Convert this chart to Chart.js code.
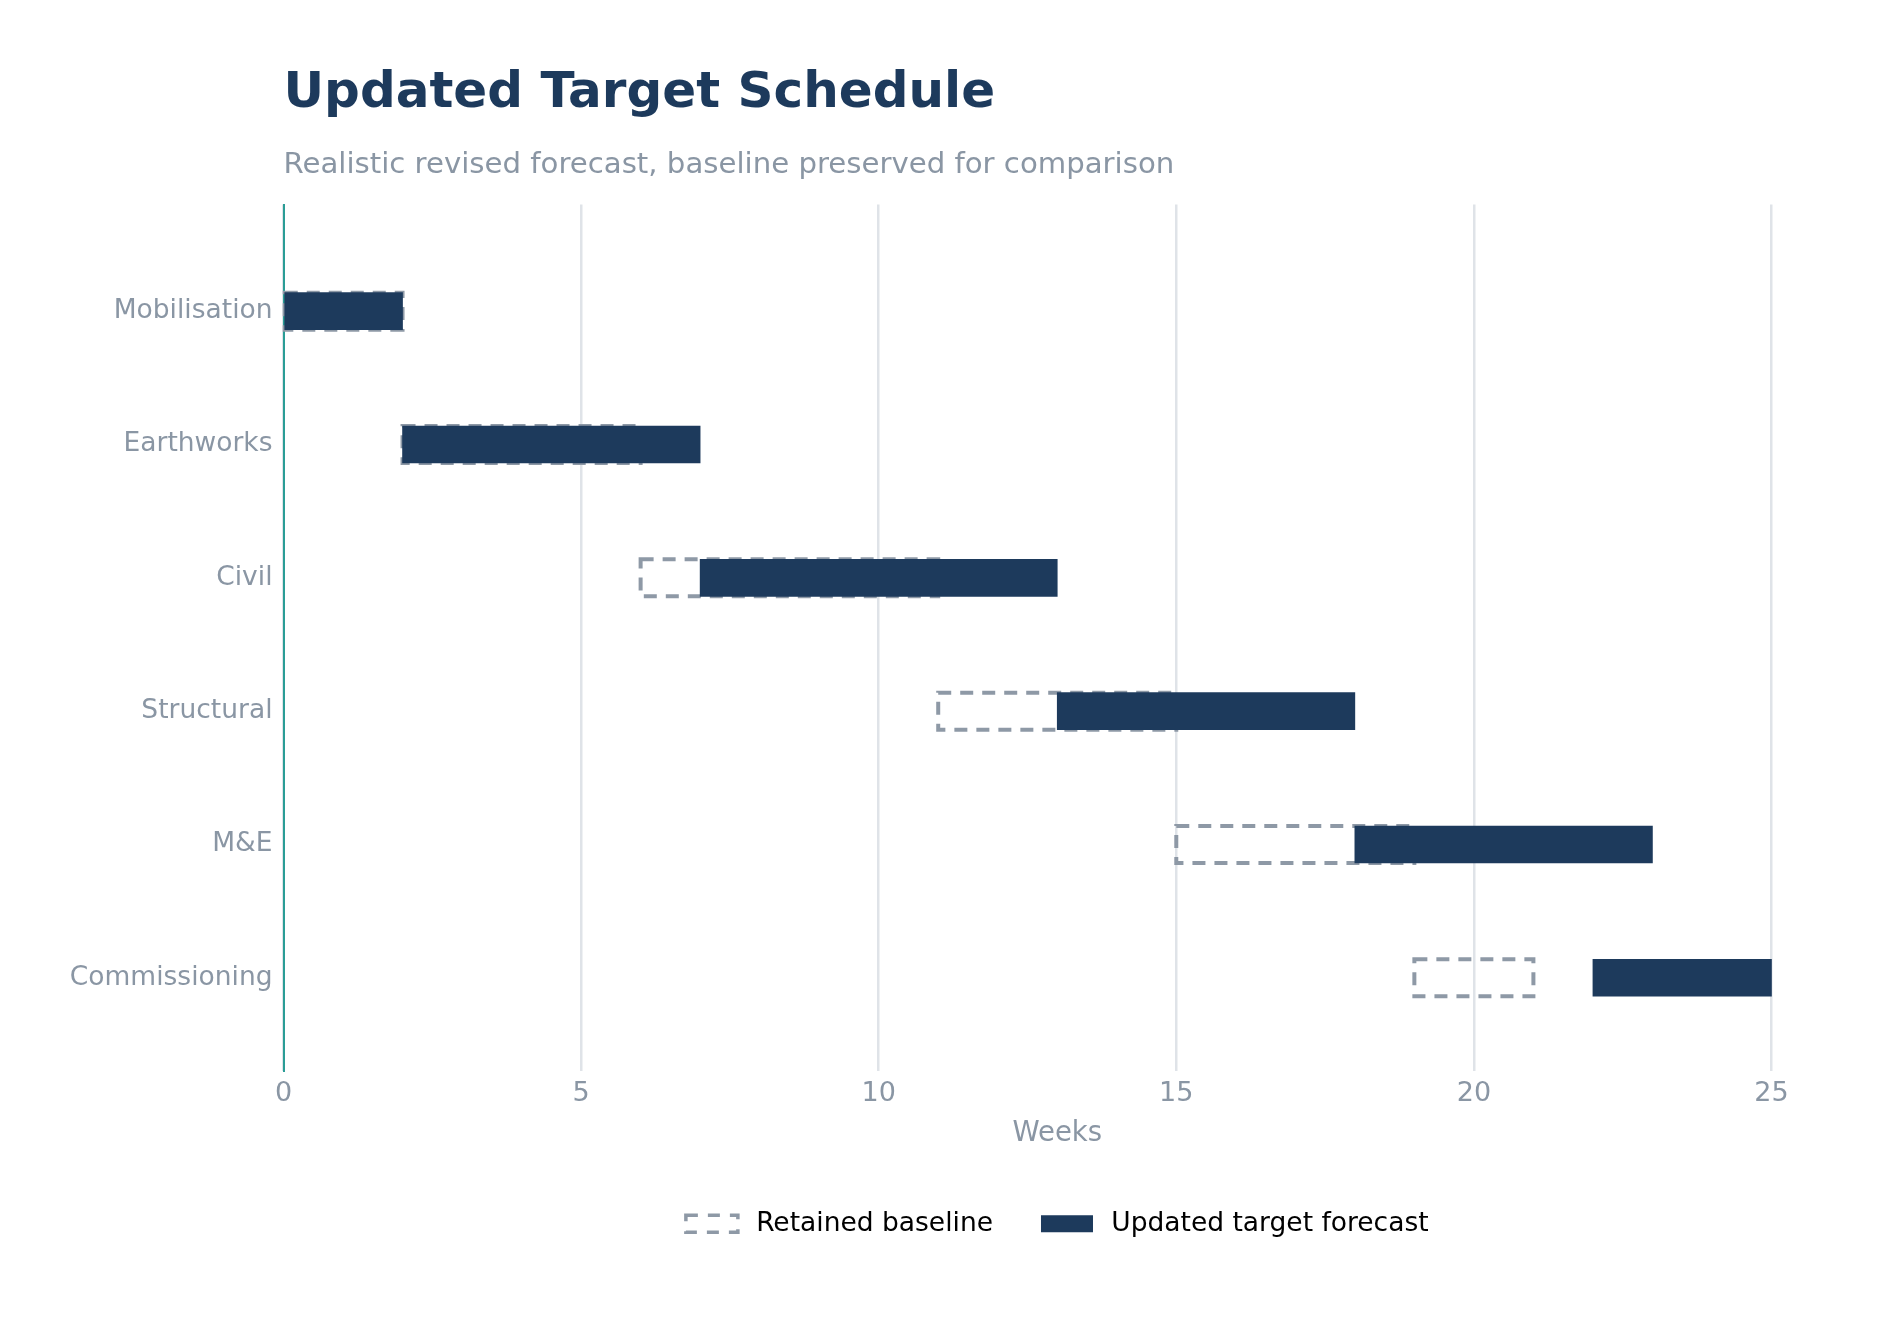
<!DOCTYPE html>
<html lang="en">

<head>
    <meta charset="UTF-8" />
    <title>Updated Target Schedule</title>
    <script src="https://cdn.jsdelivr.net/npm/chart.js@4"></script>
    <style>
        body { margin: 0; background: #ffffff; }
    </style>
</head>

<body>
    <canvas id="myChart" width="1901" height="1318"></canvas>

    <script>
        // schedule data (weeks)
        const tasks = ["Mobilisation", "Earthworks", "Civil", "Structural", "M&E", "Commissioning"];
        const baselineStart = [0, 2, 6, 11, 15, 19];
        const baselineEnd = [2, 6, 11, 15, 19, 21];
        const forecastStart = [0, 2, 7, 13, 18, 22];
        const forecastEnd = [2, 7, 13, 18, 23, 25];
        const seriesNames = ["Retained baseline", "Updated target forecast"];

        const navy = "#1d3a5c";
        const grey = "#8a96a4";
        const dashGrey = "#8e99a6";
        const teal = "#2a9d96";

        Chart.defaults.font.family = "'DejaVu Sans', sans-serif";

        // Chart.js bars can't do dashed borders, so stroke the baseline ones here
        const dashedBaseline = {
            id: "dashedBaseline",
            afterDatasetDraw(chart, args) {
                if (args.index !== 0) return;
                const ctx = chart.ctx;
                ctx.save();
                ctx.strokeStyle = dashGrey;
                ctx.lineWidth = 4;
                ctx.setLineDash([13, 9]);
                args.meta.data.forEach((el) => {
                    const p = el.getProps(["x", "y", "base", "height"], true);
                    const left = Math.min(p.x, p.base);
                    const w = Math.abs(p.x - p.base);
                    ctx.strokeRect(left, p.y - p.height / 2, w, p.height);
                });
                ctx.restore();
            },
        };

        // legend swatches drawn a bit narrower than the slot so the text sits further right
        const legendSwatches = {
            id: "legendSwatches",
            afterDraw(chart) {
                const ctx = chart.ctx;
                const boxes = chart.legend.legendHitBoxes;
                ctx.save();
                boxes.forEach((hb, i) => {
                    const top = hb.top + (hb.height - 17) / 2;
                    if (i === 0) {
                        ctx.strokeStyle = dashGrey;
                        ctx.lineWidth = 3.5;
                        ctx.setLineDash([12, 10]);
                        ctx.strokeRect(hb.left, top, 52, 17);
                    } else {
                        ctx.setLineDash([]);
                        ctx.fillStyle = navy;
                        ctx.fillRect(hb.left, top, 52, 17);
                    }
                });
                ctx.restore();
            },
        };

        const data = {
            datasets: [
                {
                    label: seriesNames[0],
                    data: tasks.map((t, i) => ({ x: [baselineStart[i], baselineEnd[i]], y: i })),
                    backgroundColor: "rgba(0,0,0,0)",
                    borderWidth: 0,
                    barThickness: 37,
                    grouped: false,
                    order: 1,
                },
                {
                    label: seriesNames[1],
                    data: tasks.map((t, i) => ({ x: [forecastStart[i], forecastEnd[i]], y: i })),
                    backgroundColor: navy,
                    borderWidth: 0,
                    barThickness: 37,
                    grouped: false,
                    order: 0,
                },
            ],
        };

        const config = {
            type: "bar",
            data: data,
            plugins: [dashedBaseline, legendSwatches],
            options: {
                responsive: false,
                animation: false,
                devicePixelRatio: 1,
                indexAxis: "y",
                layout: { padding: { left: 0, right: 70, top: 0, bottom: 71 } },
                scales: {
                    x: {
                        type: "linear",
                        min: 0,
                        max: 26,
                        ticks: {
                            stepSize: 5,
                            includeBounds: false,
                            color: grey,
                            font: { size: 27 },
                            padding: 7,
                        },
                        grid: { color: "#dfe3e8", lineWidth: 2.5, drawTicks: false },
                        border: { display: false },
                        title: {
                            display: true,
                            text: "Weeks",
                            color: grey,
                            font: { size: 27.5 },
                            padding: { top: 0, bottom: 12 },
                        },
                    },
                    y: {
                        type: "linear",
                        min: -0.8,
                        max: 5.7,
                        reverse: true,
                        offset: false,
                        afterBuildTicks: (axis) => {
                            axis.ticks = tasks.map((t, i) => ({ value: i }));
                        },
                        afterFit: (axis) => {
                            axis.width = 283.5;
                        },
                        ticks: {
                            color: grey,
                            font: { size: 26.5 },
                            padding: 11,
                            callback: (v) => tasks[v],
                        },
                        grid: { display: false, drawTicks: false, offset: false },
                        border: { display: true, color: teal, width: 2 },
                    },
                },
                plugins: {
                    title: {
                        display: true,
                        text: "Updated Target Schedule",
                        align: "start",
                        fullSize: false,
                        color: navy,
                        font: { size: 50, weight: "bold" },
                        padding: { top: 64, bottom: 11 },
                    },
                    subtitle: {
                        display: true,
                        text: "Realistic revised forecast, baseline preserved for comparison",
                        align: "start",
                        fullSize: false,
                        color: grey,
                        font: { size: 29.2 },
                        padding: { top: 12.5, bottom: 22 },
                    },
                    legend: {
                        position: "bottom",
                        fullSize: false,
                        labels: {
                            boxWidth: 57,
                            boxHeight: 17,
                            padding: 48,
                            color: "#2a2e35",
                            font: { size: 26.5 },
                            generateLabels: () => seriesNames.map((name, i) => ({
                                text: name,
                                fillStyle: "rgba(0,0,0,0)",
                                strokeStyle: "rgba(0,0,0,0)",
                                lineWidth: 0,
                                datasetIndex: i,
                            })),
                        },
                    },
                    tooltip: { enabled: false },
                },
            },
        };

        const myChart = new Chart(document.getElementById("myChart"), config);
    </script>
</body>

</html>
